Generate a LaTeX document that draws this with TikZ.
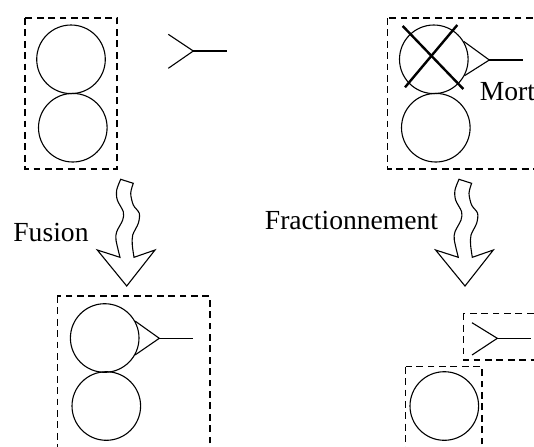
\documentclass[tikz,border=0pt]{standalone}
\usepackage{fontspec}
\setmainfont{Liberation Serif}
\usepackage{tikz}
\usetikzlibrary{calc}
\tikzset{
  cell/.style={circle, draw=black, line width=0.55pt, minimum size=34.3pt, inner sep=0pt},
  grp/.style={draw=black, line width=0.55pt, dash pattern=on 3.4pt off 2.3pt},
  lig/.style={draw=black, line width=0.55pt},
  kill/.style={draw=black, line width=1.2pt},
  lbl/.style={font=\fontsize{13.8}{16}\selectfont, inner sep=0pt, anchor=base west},
  wavearrow/.pic={
    \draw[lig] (0,0) -- (-29.4,-36) -- (-6.7,-28.7)
      -- plot[smooth] coordinates {(-6.7,-28.7) (-10.7,-46) (-10,-54.3) (-4,-66)
        (-3.4,-74.3) (-9.4,-86) (-10,-96) (-6,-106.7)}
      -- (6.6,-102.7)
      -- plot[smooth] coordinates {(6.6,-102.7) (4,-92.7) (6.6,-81) (12.6,-72.7)
        (11.6,-62.7) (6,-51) (5.6,-41) (7.3,-28.7)}
      -- (28.3,-36) -- cycle;
  },
}
\begin{document}
\begin{tikzpicture}[x=0.5pt, y=-0.5pt]
  \useasboundingbox (0,0) rectangle (534,446);
  \clip (0,0) rectangle (534,446);
  % avant : deux cellules et un recepteur libre
  \draw[grp] (25,18) rectangle (117,169);
  \node[cell] (a1) at (71,59.3) {};
  \node[cell] (a2) at (72.8,127.7) {};
  \coordinate (rA) at (193.3,51);
  \draw[lig] (168.3,34.3) -- (rA) -- (168.3,68.3);
  \draw[lig] (rA) -- (227.3,51);
  % avant : cellule morte avec recepteur
  \draw[grp] (387.7,18) rectangle (560,169);
  \node[cell] (b1) at (433.8,59.3) {};
  \node[cell] (b2) at (435.8,127.7) {};
  \coordinate (rB) at (489.3,60);
  \draw[lig] (b1.31) -- (rB) -- (b1.-28);
  \draw[lig] (rB) -- (523.3,60);
  \draw[kill] (402.7,26) -- (463.3,89);
  \draw[kill] (457.3,25) -- (405,87.3);
  \node[lbl] (mort) at (479.5,100.7) {Mort};
  % transitions
  \pic at (126.7,286) {wavearrow};
  \pic at (465,286) {wavearrow};
  \node[lbl] (fus) at (13,241) {Fusion};
  \node[lbl] (frac) at (264.5,229.3) {Fractionnement};
  % apres fusion
  \draw[grp] (57.3,296) rectangle (210,470);
  \node[cell] (c1) at (104.7,338) {};
  \node[cell] (c2) at (106.3,406) {};
  \coordinate (rC) at (159.3,338.3);
  \draw[lig] (c1.29) -- (rC) -- (c1.-29);
  \draw[lig] (rC) -- (193.3,338.3);
  % apres fractionnement
  \draw[grp] (463.3,313.3) rectangle (560,360);
  \coordinate (rD) at (497.3,338.3);
  \draw[lig] (472,322.7) -- (rD) -- (472,355);
  \draw[lig] (rD) -- (530.7,338.3);
  \draw[grp] (405.7,366.7) rectangle (482,470);
  \node[cell] (d1) at (444.3,406) {};
\end{tikzpicture}
\end{document}
